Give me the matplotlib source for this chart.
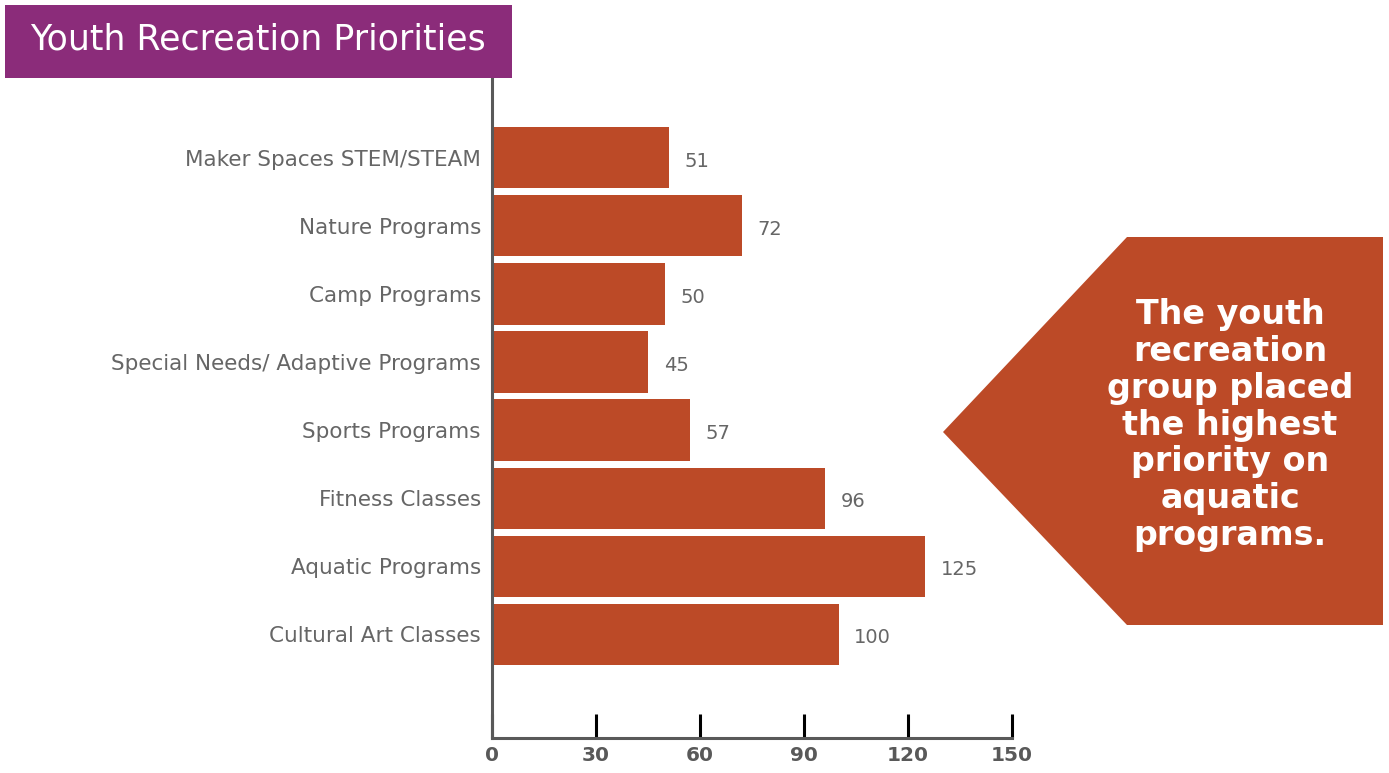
import matplotlib.pyplot as plt
from matplotlib.patches import Polygon, Rectangle

categories = ["Cultural Art Classes", "Aquatic Programs", "Fitness Classes",
              "Sports Programs", "Special Needs/ Adaptive Programs",
              "Camp Programs", "Nature Programs", "Maker Spaces STEM/STEAM"]
values = [100, 125, 96, 57, 45, 50, 72, 51]
xticks = [0, 30, 60, 90, 120, 150]

W, H = 1389, 773
bar_color = "#BC4A27"
purple = "#8B2C7A"
gray = "#595959"

plt.rcParams['font.family'] = ['DejaVu Sans']

fig = plt.figure(figsize=(W / 100, H / 100), dpi=100)
ax = fig.add_axes([492 / W, 1 - 738 / H, 520 / W, 660 / H])

ypos = list(range(len(categories)))
ax.barh(ypos, values, height=0.9, color=bar_color)
for y, v in zip(ypos, values):
    ax.text(v + 4.5, y - 0.05, str(v), va="center", ha="left",
            fontsize=14, color="#666666")

ax.set_xlim(0, 150)
ax.set_ylim(-1.52, 8.17)
ax.set_yticks(ypos)
ax.set_yticklabels(categories, fontsize=15.5, color="#666666")
ax.tick_params(axis="y", length=0, pad=8)
ax.set_xticks(xticks)
ax.set_xticklabels([str(t) for t in xticks], fontsize=14.5, fontweight="bold", color=gray)
ax.tick_params(axis="x", direction="in", length=17, width=2.2, color="black", pad=6)

for s in ["top", "right"]:
    ax.spines[s].set_visible(False)
for s in ["left", "bottom"]:
    ax.spines[s].set_color(gray)
    ax.spines[s].set_linewidth(2.2)

# title box
fig.add_artist(Rectangle((5 / W, 1 - 78 / H), 507 / W, 73 / H,
                         transform=fig.transFigure, color=purple, lw=0))
fig.text(258 / W, 1 - 40 / H, "Youth Recreation Priorities", color="white",
         fontsize=25, ha="center", va="center")

# callout arrow
pts = [(943, 432), (1127, 237), (1383, 237), (1383, 625), (1127, 625)]
fig.add_artist(Polygon([(x / W, 1 - y / H) for x, y in pts], closed=True,
                       transform=fig.transFigure, color=bar_color, lw=0))
fig.text(1230 / W, 1 - 425 / H,
         "The youth\nrecreation\ngroup placed\nthe highest\npriority on\naquatic\nprograms.",
         color="white", fontsize=24, fontweight="bold", ha="center", va="center",
         linespacing=1.15)

fig.savefig("out.png", dpi=100)
